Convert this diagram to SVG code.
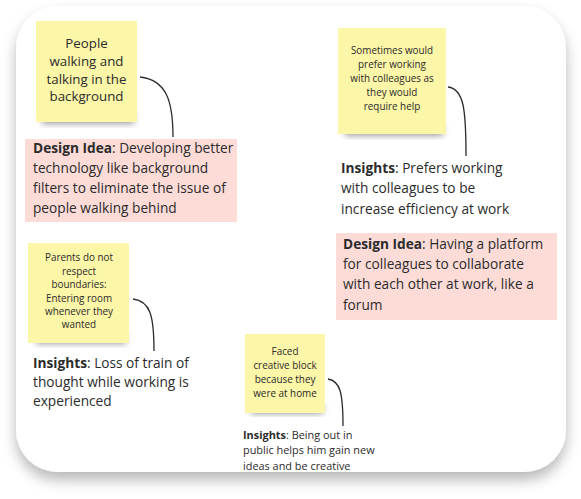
<svg xmlns="http://www.w3.org/2000/svg" width="581" height="499" viewBox="0 0 581 499">
<defs>
<filter id="cardShadow" x="-10%" y="-10%" width="120%" height="125%">
<feDropShadow dx="0" dy="8" stdDeviation="7" flood-color="#000" flood-opacity="0.28"/>
</filter>
<filter id="stickyShadow" x="-20%" y="-20%" width="140%" height="150%">
<feGaussianBlur stdDeviation="3"/>
</filter>
</defs>
<style>
text{font-family:"Open Sans","Liberation Sans",sans-serif;fill:#2b2b2b}
.sticky{fill:#fcf6a8}
.shadow{fill:#555;opacity:0.55}
.pink{fill:#fddcd8}
.conn{fill:none;stroke:#2b2b2b;stroke-width:1.3}
.s14{font-size:13.3px}
.s11{font-size:9.9px}
.s15{font-size:13.7px}
.s12{font-size:10.9px}
</style>
<rect width="581" height="499" fill="#ffffff"/>
<rect x="16" y="6" width="550" height="466" rx="42" fill="#ffffff" filter="url(#cardShadow)"/>

<g id="connectors">
<path class="conn" d="M140,77 C166,80 173,100 173,137"/>
<path class="conn" d="M448,87 C464,89 466,110 466,156"/>
<path class="conn" d="M133,299 C150,301 154,315 154,351"/>
<path class="conn" d="M328,379 C340,381 343,392 343,426"/>
</g>

<g id="sticky1">
<rect class="shadow" x="42" y="112" width="92" height="12" filter="url(#stickyShadow)"/>
<rect class="sticky" x="36" y="21" width="101" height="101"/>
<text class="s14" text-anchor="middle"><tspan x="86.5" y="48">People</tspan><tspan x="86.5" y="66">walking and</tspan><tspan x="86.5" y="84">talking in the</tspan><tspan x="86.5" y="101">background</tspan></text>
</g>

<g id="design1">
<rect class="pink" x="25" y="139" width="212" height="83"/>
<text class="s15"><tspan x="33" y="153" font-weight="700">Design Idea</tspan><tspan>: Developing better</tspan><tspan x="33" y="173">technology like background</tspan><tspan x="33" y="193">filters to eliminate the issue of</tspan><tspan x="33" y="213">people walking behind</tspan></text>
</g>

<g id="sticky2">
<rect class="shadow" x="345" y="124" width="98" height="12" filter="url(#stickyShadow)"/>
<rect class="sticky" x="338" y="28" width="108" height="106"/>
<text class="s11" text-anchor="middle"><tspan x="392" y="54">Sometimes would</tspan><tspan x="392" y="68">prefer working</tspan><tspan x="392" y="82">with colleagues as</tspan><tspan x="392" y="96">they would</tspan><tspan x="392" y="110">require help</tspan></text>
</g>

<g id="insights2">
<text class="s15"><tspan x="341" y="173" font-weight="700">Insights</tspan><tspan>: Prefers working</tspan><tspan x="341" y="193">with colleagues to be</tspan><tspan x="341" y="214">increase efficiency at work</tspan></text>
</g>

<g id="design2">
<rect class="pink" x="336" y="233" width="221" height="87"/>
<text class="s15"><tspan x="343" y="249" font-weight="700">Design Idea</tspan><tspan>: Having a platform</tspan><tspan x="343" y="269">for colleagues to collaborate</tspan><tspan x="343" y="289">with each other at work, like a</tspan><tspan x="343" y="310">forum</tspan></text>
</g>

<g id="sticky3">
<rect class="shadow" x="36" y="333" width="90" height="11" filter="url(#stickyShadow)"/>
<rect class="sticky" x="28" y="243" width="101" height="100"/>
<text class="s11" text-anchor="middle"><tspan x="79" y="261">Parents do not</tspan><tspan x="79" y="275">respect</tspan><tspan x="79" y="288">boundaries:</tspan><tspan x="79" y="302">Entering room</tspan><tspan x="79" y="315">whenever they</tspan><tspan x="79" y="328">wanted</tspan></text>
</g>

<g id="insights3">
<text class="s15"><tspan x="33" y="368" font-weight="700">Insights</tspan><tspan>: Loss of train of</tspan><tspan x="33" y="387">thought while working is</tspan><tspan x="33" y="406">experienced</tspan></text>
</g>

<g id="sticky4">
<rect class="shadow" x="251" y="404" width="72" height="10" filter="url(#stickyShadow)"/>
<rect class="sticky" x="245" y="334" width="80" height="79"/>
<text class="s11" text-anchor="middle"><tspan x="285" y="355">Faced</tspan><tspan x="285" y="369">creative block</tspan><tspan x="285" y="383">because they</tspan><tspan x="285" y="397">were at home</tspan></text>
</g>

<g id="insights4">
<text class="s12"><tspan x="243" y="439" font-weight="700">Insights</tspan><tspan>: Being out in</tspan><tspan x="243" y="454">public helps him gain new</tspan><tspan x="243" y="470">ideas and be creative</tspan></text>
</g>
</svg>
